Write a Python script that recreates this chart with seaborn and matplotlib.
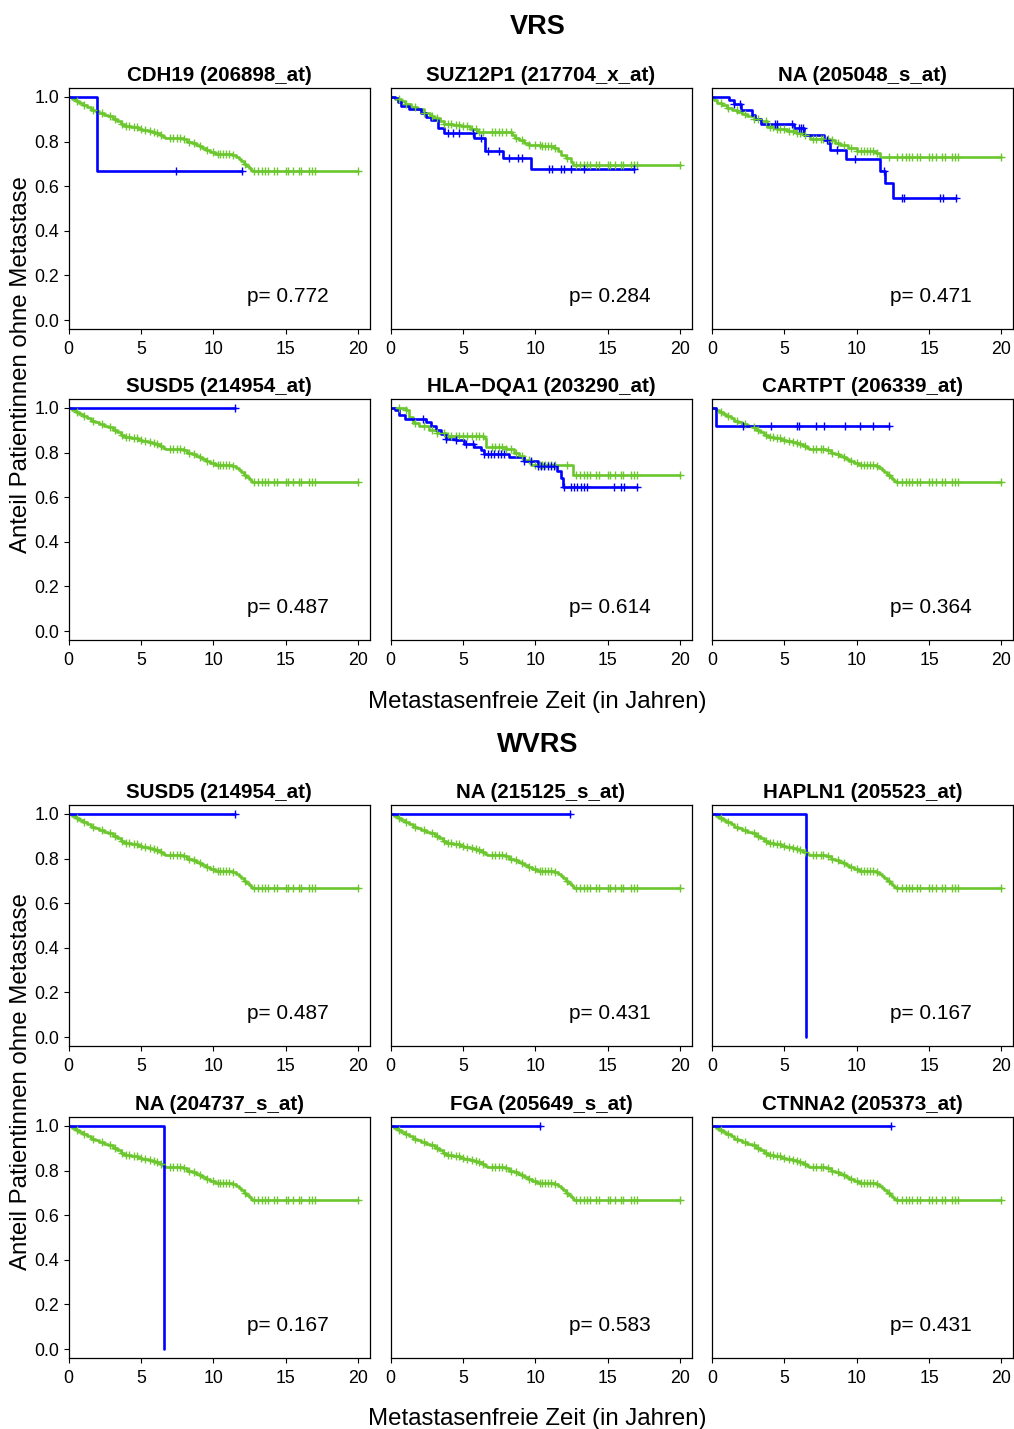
import numpy as np
import matplotlib
matplotlib.use("Agg")
import matplotlib.pyplot as plt
import seaborn as sns

# ---------------- data ----------------
# common comparison group (green) curve
green_base_t = [0, 0.25, 0.5, 0.75, 1.0, 1.3, 1.55, 1.8, 2.1, 2.45, 2.75, 3.05, 3.35, 3.6, 3.85,
                4.3, 4.8, 5.1, 5.5, 5.8, 6.0, 6.3, 6.55, 6.7, 7.9, 8.2, 8.5, 8.8, 9.05, 9.25,
                9.5, 9.8, 10.15, 11.3, 11.55, 11.75, 11.9, 12.1, 12.3, 12.45, 12.6, 12.7]
green_base_s = [1.0, 0.99, 0.983, 0.975, 0.965, 0.955, 0.943, 0.935, 0.928, 0.921, 0.913, 0.899, 0.89, 0.879, 0.869,
                0.864, 0.858, 0.854, 0.848, 0.843, 0.839, 0.831, 0.822, 0.815, 0.81, 0.8, 0.793, 0.785, 0.778, 0.771,
                0.762, 0.752, 0.744, 0.741, 0.733, 0.722, 0.712, 0.701, 0.69, 0.68, 0.672, 0.668]
green_censor = [0.6, 1.1, 1.7, 2.3, 2.9, 3.2, 3.7, 4.0, 4.2, 4.5, 4.7, 5.0, 5.3, 5.6, 5.9, 6.1, 6.4,
                7.0, 7.2, 7.5, 7.7, 8.0, 8.3, 8.7, 9.1, 9.6, 10.0, 10.3, 10.5, 10.7, 10.9, 11.1, 11.4,
                12.2, 12.8, 13.1, 13.4, 13.6, 13.8, 14.2, 14.4, 15.0, 15.2, 15.5, 15.9, 16.1, 16.6,
                16.8, 17.0, 20.0]
green_end = 20.0

green_suz_t = [0, 0.3, 0.7, 1.0, 1.4, 1.8, 2.3, 2.7, 3.0, 3.4, 3.7, 4.3, 4.9, 5.5, 6.0, 8.1, 8.4,
               8.6, 8.9, 9.2, 9.6, 10.4, 11.3, 11.6, 11.8, 12.1, 12.45, 12.6]
green_suz_s = [1.0, 0.99, 0.98, 0.97, 0.957, 0.945, 0.927, 0.915, 0.905, 0.892, 0.88, 0.874, 0.868, 0.856,
               0.845, 0.842, 0.83, 0.818, 0.805, 0.793, 0.785, 0.778, 0.771, 0.756, 0.741, 0.725, 0.708, 0.693]

green_na1_t = [0, 0.15, 0.37, 0.7, 1.06, 1.4, 1.75, 2.1, 2.43, 2.9, 3.36, 3.81, 4.5, 5.2, 5.8, 6.34,
               6.8, 8.18, 8.5, 8.87, 9.4, 10.0, 11.3, 11.63]
green_na1_s = [1.0, 0.985, 0.972, 0.962, 0.95, 0.94, 0.932, 0.923, 0.915, 0.902, 0.89, 0.863, 0.856,
               0.848, 0.84, 0.83, 0.813, 0.806, 0.795, 0.786, 0.77, 0.756, 0.749, 0.733]

green_hla_t = [0, 1.08, 1.3, 1.54, 2.0, 2.69, 3.2, 3.84, 6.48, 6.6, 8.0, 8.55, 8.9, 9.24, 9.7, 12.6]
green_hla_s = [1.0, 0.991, 0.96, 0.932, 0.92, 0.902, 0.888, 0.872, 0.865, 0.827, 0.815, 0.798, 0.783,
               0.768, 0.746, 0.698]

# gene groups (blue)
cdh19_t, cdh19_s, cdh19_end = [0, 2.0], [1.0, 0.667], 12.0
cdh19_c = [7.45, 12.0]

suz_t = [0, 0.28, 0.5, 0.74, 1.3, 2.1, 2.46, 2.8, 3.27, 3.72, 5.8, 6.53, 7.74, 9.74]
suz_s = [1.0, 0.994, 0.979, 0.961, 0.946, 0.927, 0.912, 0.897, 0.86, 0.84, 0.818, 0.756, 0.726, 0.679]
suz_end = 16.8
suz_c = [3.95, 4.3, 4.76, 5.68, 6.25, 6.71, 7.52, 8.21, 8.78, 9.12, 10.97, 11.19, 11.77, 12.0,
         12.46, 13.38, 16.8]

na1_t = [0, 1.17, 1.52, 1.98, 2.78, 3.0, 3.36, 5.66, 6.34, 7.72, 8.0, 8.18, 9.28, 11.63, 11.97, 12.48]
na1_s = [1.0, 0.987, 0.967, 0.942, 0.92, 0.902, 0.88, 0.86, 0.83, 0.808, 0.793, 0.763, 0.723, 0.67,
         0.615, 0.545]
na1_end = 16.85
na1_c = [1.52, 1.93, 4.32, 4.46, 5.54, 6.0, 6.12, 6.3, 7.95, 8.64, 9.91, 11.86, 13.12, 13.24,
         15.77, 15.95, 16.85]

susd5_t, susd5_s, susd5_end = [0], [1.0], 11.5
susd5_c = [11.5]

hla_t = [0, 0.28, 0.62, 0.97, 2.46, 2.8, 3.15, 3.5, 3.84, 4.53, 5.1, 5.8, 6.25, 6.48, 8.2, 9.24,
         10.16, 11.54, 11.77, 11.93]
hla_s = [1.0, 0.991, 0.969, 0.951, 0.939, 0.921, 0.902, 0.882, 0.862, 0.857, 0.838, 0.827, 0.8125,
         0.793, 0.778, 0.763, 0.741, 0.716, 0.686, 0.644]
hla_end = 17.06
hla_c = [2.23, 3.84, 4.53, 5.22, 5.68, 6.48, 6.71, 6.94, 7.17, 7.4, 7.63, 7.86, 9.24, 9.7, 10.16,
         10.39, 10.62, 10.85, 11.08, 11.31, 12.0, 12.46, 12.69, 12.92, 13.15, 13.38, 13.61, 15.45,
         15.91, 16.14, 17.06]

cartpt_t, cartpt_s, cartpt_end = [0, 0.25], [1.0, 0.917], 12.2
cartpt_c = [2.16, 4.05, 5.89, 6.0, 7.22, 7.77, 9.22, 10.2, 11.12, 12.2]

na2_t, na2_s, na2_end = [0], [1.0], 12.4
na2_c = [12.4]
hapln1_t, hapln1_s, hapln1_end = [0, 6.48], [1.0, 0.0], 6.48
hapln1_c = []
na3_t, na3_s, na3_end = [0, 6.6], [1.0, 0.0], 6.6
na3_c = []
fga_t, fga_s, fga_end = [0], [1.0], 10.3
fga_c = [10.3]
ctnna2_t, ctnna2_s, ctnna2_end = [0], [1.0], 12.35
ctnna2_c = [12.35]

titles_vrs = ["CDH19 (206898_at)", "SUZ12P1 (217704_x_at)", "NA (205048_s_at)",
              "SUSD5 (214954_at)", "HLA\u2212DQA1 (203290_at)", "CARTPT (206339_at)"]
pvals_vrs = ["0.772", "0.284", "0.471", "0.487", "0.614", "0.364"]
titles_wvrs = ["SUSD5 (214954_at)", "NA (215125_s_at)", "HAPLN1 (205523_at)",
               "NA (204737_s_at)", "FGA (205649_s_at)", "CTNNA2 (205373_at)"]
pvals_wvrs = ["0.487", "0.431", "0.167", "0.167", "0.583", "0.431"]

x_ticks = [0, 5, 10, 15, 20]
y_ticks = [0.0, 0.2, 0.4, 0.6, 0.8, 1.0]

# ---------------- style ----------------
sns.set_style("ticks")
plt.rcParams["font.family"] = ["Liberation Sans", "DejaVu Sans"]
plt.rcParams["text.color"] = "black"

GREEN = "#6CC72F"
BLUE = "#0000FF"

W, H = 1014, 1429
fig = plt.figure(figsize=(W / 100, H / 100), dpi=100)

col_left = [68.5, 390.5, 712.0]
ax_w = 301.0
row_top = [88, 399, 805, 1117]
ax_h = 241.0


def step_curve(t, s, end):
    t = list(t) + [end]
    s = list(s) + [s[-1]]
    return np.array(t, float), np.array(s, float)


def eval_step(t, s, q):
    t = np.asarray(t, float)
    s = np.asarray(s, float)
    idx = np.searchsorted(t, np.asarray(q, float), side="right") - 1
    idx = np.clip(idx, 0, len(s) - 1)
    return s[idx]


def draw_curve(ax, t, s, end, cens, color):
    tt, ss = step_curve(t, s, end)
    sns.lineplot(x=tt, y=ss, ax=ax, color=color, lw=1.9, drawstyle="steps-post",
                 estimator=None, sort=False)
    if len(cens):
        cy = eval_step(t, s, cens)
        sns.scatterplot(x=np.asarray(cens, float), y=cy, ax=ax, marker="+", s=26,
                        color=color, linewidth=1.0, zorder=3)


panels = [
    (0, 0, titles_vrs[0], pvals_vrs[0], (green_base_t, green_base_s), (cdh19_t, cdh19_s, cdh19_end, cdh19_c)),
    (0, 1, titles_vrs[1], pvals_vrs[1], (green_suz_t, green_suz_s), (suz_t, suz_s, suz_end, suz_c)),
    (0, 2, titles_vrs[2], pvals_vrs[2], (green_na1_t, green_na1_s), (na1_t, na1_s, na1_end, na1_c)),
    (1, 0, titles_vrs[3], pvals_vrs[3], (green_base_t, green_base_s), (susd5_t, susd5_s, susd5_end, susd5_c)),
    (1, 1, titles_vrs[4], pvals_vrs[4], (green_hla_t, green_hla_s), (hla_t, hla_s, hla_end, hla_c)),
    (1, 2, titles_vrs[5], pvals_vrs[5], (green_base_t, green_base_s), (cartpt_t, cartpt_s, cartpt_end, cartpt_c)),
    (2, 0, titles_wvrs[0], pvals_wvrs[0], (green_base_t, green_base_s), (susd5_t, susd5_s, susd5_end, susd5_c)),
    (2, 1, titles_wvrs[1], pvals_wvrs[1], (green_base_t, green_base_s), (na2_t, na2_s, na2_end, na2_c)),
    (2, 2, titles_wvrs[2], pvals_wvrs[2], (green_base_t, green_base_s), (hapln1_t, hapln1_s, hapln1_end, hapln1_c)),
    (3, 0, titles_wvrs[3], pvals_wvrs[3], (green_base_t, green_base_s), (na3_t, na3_s, na3_end, na3_c)),
    (3, 1, titles_wvrs[4], pvals_wvrs[4], (green_base_t, green_base_s), (fga_t, fga_s, fga_end, fga_c)),
    (3, 2, titles_wvrs[5], pvals_wvrs[5], (green_base_t, green_base_s), (ctnna2_t, ctnna2_s, ctnna2_end, ctnna2_c)),
]

for (r, c, title, p, g, b) in panels:
    left = col_left[c] / W
    bottom = 1 - (row_top[r] + ax_h) / H
    ax = fig.add_axes([left, bottom, ax_w / W, ax_h / H])
    draw_curve(ax, g[0], g[1], green_end, green_censor, GREEN)
    draw_curve(ax, b[0], b[1], b[2], b[3], BLUE)
    ax.set_xlim(0, 20.8)
    ax.set_ylim(-0.04, 1.04)
    ax.set_xticks(x_ticks)
    ax.set_xticklabels([str(v) for v in x_ticks])
    if c == 0:
        ax.set_yticks(y_ticks)
        ax.set_yticklabels([f"{v:.1f}" for v in y_ticks])
    else:
        ax.set_yticks([])
    ax.tick_params(axis="both", direction="out", length=3.8, width=0.8, labelsize=12.8,
                   color="black", labelcolor="black")
    ax.tick_params(axis="x", pad=4.5)
    ax.tick_params(axis="y", pad=3)
    for sp in ax.spines.values():
        sp.set_visible(True)
        sp.set_linewidth(0.9)
        sp.set_color("black")
    ax.set_xlabel("")
    ax.set_ylabel("")
    ax.set_title(title, fontsize=14.8, fontweight="bold", pad=5.0, color="black")
    ax.text(15.15, 0.105, "p= " + p, fontsize=15, ha="center", va="center", color="black")


def fig_text(x, y, s, **kw):
    fig.text(x / W, 1 - y / H, s, ha="center", va="center", color="black", **kw)


fig_text(538, 27.5, "VRS", fontsize=19.5, fontweight="bold")
fig_text(538, 745, "WVRS", fontsize=19.5, fontweight="bold")
fig_text(537, 702, "Metastasenfreie Zeit (in Jahren)", fontsize=17.3)
fig_text(537, 1419, "Metastasenfreie Zeit (in Jahren)", fontsize=17.3)
fig_text(21, 365, "Anteil Patientinnen ohne Metastase", fontsize=17.3, rotation=90)
fig_text(21, 1082, "Anteil Patientinnen ohne Metastase", fontsize=17.3, rotation=90)

fig.savefig("out.png", dpi=100, facecolor="white")
